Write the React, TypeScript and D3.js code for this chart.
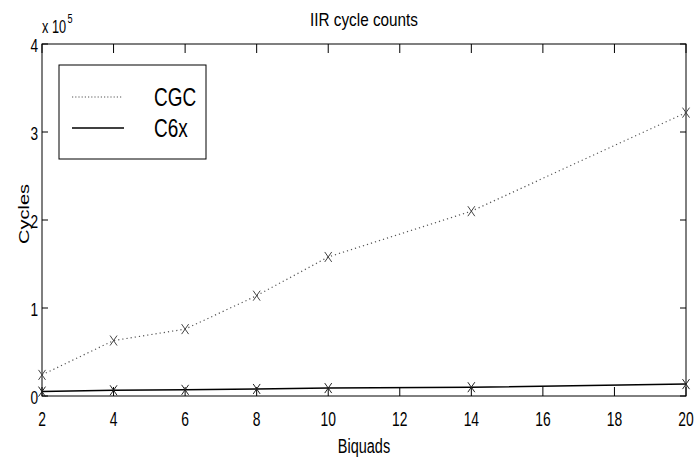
import React from "react";
import * as d3 from "d3";

const biquads = [2, 4, 6, 8, 10, 14, 20];
const cgcCycles = [24000, 63000, 76000, 114000, 158000, 210000, 322000];
const c6xCycles = [5000, 6500, 7000, 8000, 9000, 10000, 13500];
const xTicks = [2, 4, 6, 8, 10, 12, 14, 16, 18, 20];
const yTicks = [0, 1, 2, 3, 4];
const seriesNames = ["CGC", "C6x"];

const W = 698;
const H = 463;
const L = 42, R = 686, T = 44, B = 396;
const FONT = "'Liberation Sans', Arial, sans-serif";

type TProps = {
  x: number;
  y: number;
  size: number;
  sx: number;
  anchor?: "start" | "middle" | "end";
  rotate?: boolean;
  children: React.ReactNode;
};

function SText({ x, y, size, sx, anchor = "start", rotate = false, children }: TProps) {
  const tr = rotate
    ? `translate(${x},${y}) scale(${sx},1) rotate(-90)`
    : `translate(${x},${y}) scale(${sx},1)`;
  return (
    <text transform={tr} fontSize={size} textAnchor={anchor} fill="#000">
      {children}
    </text>
  );
}

export default function App() {
  const x = d3.scaleLinear().domain([2, 20]).range([L, R]);
  const y = d3.scaleLinear().domain([0, 400000]).range([B, T]);
  const line = d3
    .line<number>()
    .x((_, i) => x(biquads[i]))
    .y((d) => y(d));

  const marker = (cx: number, cy: number, color: string, key: string) => (
    <g key={key} stroke={color} strokeWidth={1}>
      <line x1={cx - 3.5} y1={cy - 5} x2={cx + 3.5} y2={cy + 5} />
      <line x1={cx - 3.5} y1={cy + 5} x2={cx + 3.5} y2={cy - 5} />
    </g>
  );

  return (
    <svg
      width={W}
      height={H}
      style={{ position: "absolute", left: 0, top: 0, background: "#fff" }}
      fontFamily={FONT}
    >
      <rect x={0} y={0} width={W} height={H} fill="#fff" />
      {/* axes box */}
      <rect x={L} y={T} width={R - L} height={B - T} fill="none" stroke="#000" strokeWidth={1} />
      {/* x ticks */}
      {xTicks.map((t) => (
        <g key={"xt" + t}>
          <line x1={x(t)} x2={x(t)} y1={B} y2={B - 9} stroke="#000" />
          <line x1={x(t)} x2={x(t)} y1={T} y2={T + 9} stroke="#000" />
          <SText x={x(t)} y={426} size={21} sx={0.66} anchor="middle">
            {t}
          </SText>
        </g>
      ))}
      {/* y ticks */}
      {yTicks.map((t) => (
        <g key={"yt" + t}>
          <line x1={L} x2={L + 6} y1={y(t * 100000)} y2={y(t * 100000)} stroke="#000" />
          <line x1={R} x2={R - 6} y1={y(t * 100000)} y2={y(t * 100000)} stroke="#000" />
          <SText x={38} y={y(t * 100000) + 8} size={19} sx={0.72} anchor="end">
            {t}
          </SText>
        </g>
      ))}
      {/* exponent */}
      <SText x={42} y={33} size={19} sx={0.67}>
        x 10
      </SText>
      <SText x={67.5} y={23} size={13} sx={0.7}>
        5
      </SText>
      {/* title */}
      <SText x={(L + R) / 2} y={26} size={18} sx={0.85} anchor="middle">
        IIR cycle counts
      </SText>
      {/* x label */}
      <SText x={(L + R) / 2} y={453} size={21} sx={0.69} anchor="middle">
        Biquads
      </SText>
      {/* y label */}
      <SText x={29} y={214} size={20} sx={0.72} anchor="middle" rotate>
        Cycles
      </SText>
      {/* series */}
      <path d={line(cgcCycles) || ""} fill="none" stroke="#555" strokeWidth={1.2} strokeDasharray="1.2 3" />
      <path d={line(c6xCycles) || ""} fill="none" stroke="#000" strokeWidth={1.5} />
      {cgcCycles.map((v, i) => marker(x(biquads[i]), y(v), "#444", "m1" + i))}
      {c6xCycles.map((v, i) => marker(x(biquads[i]), y(v), "#222", "m2" + i))}
      {/* legend */}
      <rect x={59} y={65} width={147} height={94} fill="#fff" stroke="#000" strokeWidth={1} />
      <line x1={72} x2={122} y1={97} y2={97} stroke="#555" strokeWidth={1.2} strokeDasharray="1.2 2" />
      <line x1={72} x2={124} y1={128} y2={128} stroke="#000" strokeWidth={1.5} />
      <SText x={154} y={106} size={25} sx={0.76}>
        {seriesNames[0]}
      </SText>
      <SText x={154} y={137} size={25} sx={0.76}>
        {seriesNames[1]}
      </SText>
    </svg>
  );
}
